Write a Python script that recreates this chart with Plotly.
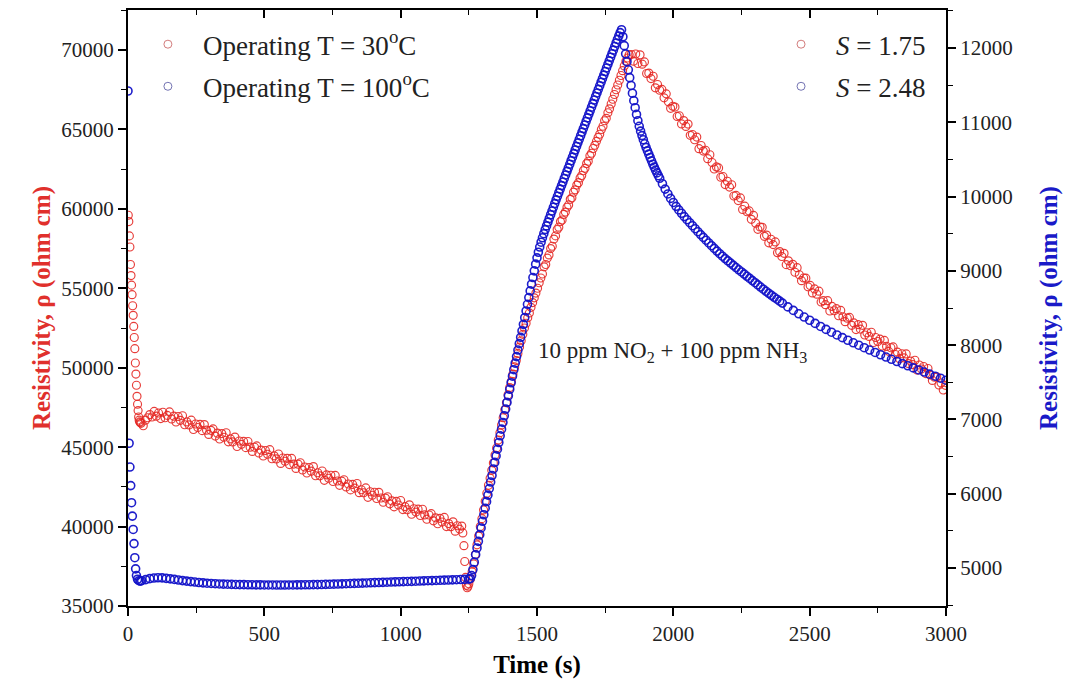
import plotly.graph_objects as go

# ---------------- data ----------------
# 100 degC sample (right axis), ohm cm
blue_start_t = [0, 4, 7, 10, 13, 16, 19, 22, 25, 28, 31, 35, 40, 45]
blue_start_v = [11420, 6680, 6360, 6110, 5880, 5700, 5520, 5330, 5140, 4990, 4900, 4850, 4830, 4825]

blue_flat_t0, blue_flat_dt = 50, 15
blue_flat_v = [4830, 4845, 4858, 4866, 4870, 4868, 4862, 4855, 4848, 4840, 4832, 4825, 4818, 4812,
               4806, 4801, 4797, 4793, 4790, 4787, 4785, 4783, 4781, 4779, 4778, 4777, 4776, 4775,
               4774, 4774, 4773, 4773, 4773, 4772, 4772, 4772, 4773, 4773, 4774, 4774, 4775, 4776,
               4777, 4778, 4779, 4781, 4782, 4784, 4786, 4788, 4790, 4792, 4794, 4796, 4798, 4800,
               4802, 4804, 4806, 4808, 4810, 4812, 4814, 4816, 4818, 4820, 4822, 4824, 4826, 4828,
               4830, 4832, 4834, 4836, 4838, 4840, 4842, 4844, 4846, 4848, 4852]

blue_rise_t0, blue_rise_dt = 1255, 5
blue_rise_v = [4860, 4900, 4980, 5080, 5180, 5270, 5360, 5450, 5540, 5630, 5718, 5806, 5894, 5982,
               6070, 6158, 6246, 6334, 6422, 6510, 6600, 6690, 6780, 6870, 6960, 7050, 7140, 7230,
               7318, 7406, 7494, 7582, 7670, 7758, 7846, 7934, 8020, 8106, 8192, 8280, 8370, 8460,
               8550, 8640, 8730, 8820, 8910, 9000, 9090, 9175, 9250, 9320, 9385, 9445, 9500, 9555,
               9605, 9655, 9705, 9755, 9805, 9855, 9905, 9955, 10003, 10051, 10099, 10147, 10195,
               10243, 10290, 10338, 10386, 10434, 10482, 10530, 10578, 10626, 10674, 10722, 10770,
               10818, 10866, 10914, 10962, 11010, 11058, 11106, 11154, 11202, 11250, 11298, 11346,
               11394, 11442, 11490, 11538, 11586, 11634, 11682, 11730, 11778, 11826, 11874, 11922,
               11970, 12018, 12066, 12114, 12160, 12205, 12245]

blue_decay1_t0, blue_decay1_dt = 1815, 5
blue_decay1_v = [12150, 12030, 11920, 11815, 11705, 11600, 11495, 11390, 11290, 11195, 11105, 11020,
                 10945, 10880, 10820, 10765, 10710, 10660, 10615, 10570, 10525, 10480, 10435, 10395,
                 10355, 10318, 10280, 10245]

blue_decay2_t0, blue_decay2_dt = 1960, 10
blue_decay2_v = [10172, 10100, 10035, 9975, 9920, 9868, 9820, 9775, 9730, 9688, 9648, 9607, 9567,
                 9527, 9488, 9450, 9412, 9375, 9338, 9302, 9266, 9231, 9197, 9165, 9134, 9104, 9074,
                 9044, 9014, 8985, 8956, 8927, 8898, 8869, 8840, 8811, 8782, 8753, 8725, 8697, 8670,
                 8644, 8618, 8592, 8566]

blue_decay3_t0, blue_decay3_dt = 2420, 20
blue_decay3_v = [8515, 8468, 8422, 8378, 8335, 8293, 8252, 8212, 8174, 8137, 8101, 8066, 8032, 7999,
                 7966, 7934, 7902, 7871, 7840, 7810, 7780, 7751, 7722, 7694, 7666, 7638, 7610, 7582,
                 7555, 7528]

# 30 degC sample (left axis), ohm cm
red_start_t = [1, 3, 5, 7, 9, 11, 13, 15, 17, 19, 21, 23, 25, 27, 29, 31, 33, 35, 37, 39, 41, 43, 45]
red_start_v = [59600, 59200, 58300, 57600, 56500, 55800, 55200, 54600, 53900, 53300, 52600, 51900,
               51200, 50300, 49600, 48900, 48200, 47700, 47300, 46900, 46700, 46600, 46550]

red_flat_t0, red_flat_dt = 48, 8
red_flat_v = [46500, 46350, 46700, 46850, 47050, 46900, 47250, 46950, 47150, 46800, 47200, 46850,
              47000, 47220, 46770, 46950, 46580, 46930, 46690, 46980, 46410, 46590, 46400, 46700,
              46110, 46460, 46240, 46430, 46040, 46420, 46070, 45800, 46060, 46150, 45695, 45880,
              45510, 45855, 45620, 45910, 45335, 45520, 45330, 45635, 45040, 45390, 45175, 45360,
              44970, 45355, 45000, 44730, 44995, 45080, 44630, 44815, 44440, 44790, 44555, 44840,
              44270, 44455, 44260, 44570, 43975, 44320, 44110, 44295, 43900, 44290, 43935, 43660,
              43930, 44015, 43560, 43750, 43375, 43720, 43490, 43775, 43200, 43390, 43195, 43500,
              42910, 43255, 43040, 43230, 42835, 43220, 42870, 42595, 42860, 42950, 42495, 42680,
              42310, 42655, 42420, 42710, 42135, 42320, 42130, 42435, 41840, 42190, 41975, 42160,
              41770, 42155, 41800, 41530, 41795, 41880, 41430, 41615, 41240, 41590, 41355, 41640,
              41070, 41255, 41060, 41370, 40775, 41120, 40910, 41095, 40700, 41090, 40735, 40460,
              40730, 40815, 40360, 40550, 40175, 40520, 40290, 40575, 40000, 40190, 39995, 40300,
              39710, 40055, 39840, 40030]

red_drop_t = [1228, 1232, 1235, 1238, 1241, 1244, 1247]
red_drop_v = [39600, 38800, 37800, 36800, 36300, 36150, 36250]

red_rise_t0, red_rise_dt = 1250, 6
red_rise_v = [36400, 36700, 37150, 37650, 38250, 38850, 39400, 40000, 40500, 41050, 41600, 42100,
              42600, 43050, 43550, 44000, 44500, 44950, 45450, 45900, 46400, 46850, 47350, 47800,
              48300, 48750, 49150, 49600, 50050, 50450, 50900, 51300, 51700, 52100, 52500, 52800,
              53150, 53450, 53800, 54100, 54400, 54700, 55000, 55350, 55650, 55900, 56350, 56500,
              56900, 57100, 57500, 57650, 58100, 58300, 58700, 58850, 59200, 59300, 59650, 59800,
              60100, 60250, 60600, 60700, 61050, 61200, 61500, 61650, 61950, 62100, 62400, 62550,
              62850, 63000, 63350, 63500, 63800, 64000, 64250, 64500, 64700, 65000, 65200, 65550,
              65700, 66050, 66300, 66600, 66900, 67200, 67500, 67800, 68100, 68400, 68700, 69000,
              69300, 69500, 69700]

red_decay_t0, red_decay_dt = 1846, 8
red_decay_v = [69720, 69300, 69750, 69150, 69700, 69110, 69250, 68520, 68550, 68200, 68350, 67620,
               67830, 67470, 67520, 66990, 67240, 66740, 66330, 66460, 66410, 65820, 65860, 65350,
               65560, 65190, 65340, 64630, 64680, 64350, 64520, 63790, 63990, 63640, 63690, 63160,
               63410, 62920, 62510, 62640, 62580, 61990, 62040, 61530, 61740, 61370, 61520, 60810,
               60850, 60520, 60690, 59960, 60170, 59820, 59870, 59340, 59590, 59100, 58710, 58860,
               58840, 58270, 58350, 57860, 58090, 57750, 57920, 57240, 57310, 57000, 57200, 56490,
               56730, 56420, 56510, 56010, 56300, 55850, 55480, 55650, 55640, 55090, 55180, 54710,
               54960, 54630, 54820, 54140, 54220, 53970, 54220, 53570, 53860, 53590, 53720, 53270,
               53610, 53210, 52900, 53120, 53170, 52670, 52820, 52400, 52710, 52430, 52670, 52060,
               52200, 51970, 52230, 51590, 51900, 51650, 51800, 51370, 51720, 51340, 51030, 51260,
               51310, 50830, 50980, 50570, 50880, 50620, 50870, 50260, 50420, 50200, 50470, 49850,
               50170, 49920, 50080, 49630, 49950, 49540, 49200, 49400, 49430, 48910, 49040, 48600,
               48890]

x_ticks = [0, 500, 1000, 1500, 2000, 2500, 3000]
left_ticks = [35000, 40000, 45000, 50000, 55000, 60000, 65000, 70000]
right_ticks = [5000, 6000, 7000, 8000, 9000, 10000, 11000, 12000]


def grid(t0, dt, vals):
    return [t0 + dt * i for i in range(len(vals))]


blue_t = (blue_start_t + grid(blue_flat_t0, blue_flat_dt, blue_flat_v)
          + grid(blue_rise_t0, blue_rise_dt, blue_rise_v)
          + grid(blue_decay1_t0, blue_decay1_dt, blue_decay1_v)
          + grid(blue_decay2_t0, blue_decay2_dt, blue_decay2_v)
          + grid(blue_decay3_t0, blue_decay3_dt, blue_decay3_v))
blue_v = blue_start_v + blue_flat_v + blue_rise_v + blue_decay1_v + blue_decay2_v + blue_decay3_v

red_t = (red_start_t + grid(red_flat_t0, red_flat_dt, red_flat_v) + red_drop_t
         + grid(red_rise_t0, red_rise_dt, red_rise_v)
         + grid(red_decay_t0, red_decay_dt, red_decay_v))
red_v = red_start_v + red_flat_v + red_drop_v + red_rise_v + red_decay_v

SERIF = "Liberation Serif"
RED = "#e0302c"
BLUE = "#1a1ac8"

fig = go.Figure()

fig.add_trace(go.Scatter(
    x=red_t, y=red_v, mode="markers", yaxis="y", showlegend=False,
    marker=dict(symbol="circle-open", size=8, color="rgba(228,40,36,0.9)", line=dict(width=1.15)),
))
fig.add_trace(go.Scatter(
    x=blue_t, y=blue_v, mode="markers", yaxis="y2", showlegend=False,
    marker=dict(symbol="circle-open", size=8, color="rgba(18,18,200,0.95)", line=dict(width=1.6)),
))

# legend entries
leg_red = dict(symbol="circle-open", size=8, color="rgba(205,110,110,0.9)", line=dict(width=1))
leg_blue = dict(symbol="circle-open", size=8, color="rgba(100,100,170,0.9)", line=dict(width=1))
fig.add_trace(go.Scatter(x=[None], y=[None], mode="markers", marker=leg_red, legend="legend",
                         legendgroup="a", name="Operating T = 30<sup>o</sup>C"))
fig.add_trace(go.Scatter(x=[None], y=[None], mode="markers", marker=leg_blue, legend="legend",
                         legendgroup="b", name="Operating T = 100<sup>o</sup>C"))
fig.add_trace(go.Scatter(x=[None], y=[None], mode="markers", marker=leg_red, legend="legend2",
                         legendgroup="c", name="<i>S</i> = 1.75"))
fig.add_trace(go.Scatter(x=[None], y=[None], mode="markers", marker=leg_blue, legend="legend2",
                         legendgroup="d", name="<i>S</i> = 2.48"))
# carrier for the top axis
fig.add_trace(go.Scatter(x=[None], y=[None], xaxis="x2", yaxis="y", showlegend=False,
                         hoverinfo="skip"))

tickfont = dict(family=SERIF, size=21, color="#222")
axis_common = dict(showline=True, linewidth=2, linecolor="black", showgrid=False, zeroline=False,
                   ticks="outside", ticklen=8, tickwidth=1.6, tickcolor="black",
                   tickfont=tickfont)

fig.update_layout(
    width=1073, height=684,
    margin=dict(l=128, r=127, t=10, b=78),
    paper_bgcolor="white", plot_bgcolor="white",
    font=dict(family=SERIF, color="#222"),
    xaxis=dict(range=[0, 3000], tickvals=x_ticks, ticktext=[str(v) for v in x_ticks],
               minor=dict(dtick=250, tick0=0, ticks="outside", ticklen=5, tickwidth=1.4,
                          tickcolor="black"),
               title=dict(text="<b>Time (s)</b>", font=dict(family=SERIF, size=25, color="black"),
                          standoff=10),
               **axis_common),
    xaxis2=dict(range=[0, 3000], overlaying="x", side="top", anchor="y", showline=True,
                linewidth=2, linecolor="black", showgrid=False, zeroline=False,
                showticklabels=False, ticks="inside", ticklen=8, tickwidth=1.6, tickcolor="black",
                tickvals=x_ticks,
                minor=dict(dtick=250, tick0=0, ticks="inside", ticklen=5, tickwidth=1.4,
                           tickcolor="black")),
    yaxis=dict(range=[35000, 72520], tickvals=left_ticks, ticktext=[str(v) for v in left_ticks],
               minor=dict(dtick=2500, tick0=0, ticks="outside", ticklen=5, tickwidth=1.4,
                          tickcolor="black"),
               title=dict(text="<b>Resistivity, ρ (ohm cm)</b>",
                          font=dict(family=SERIF, size=25, color=RED), standoff=4),
               **axis_common),
    yaxis2=dict(range=[4490, 12510], overlaying="y", side="right", tickvals=right_ticks,
                ticktext=[str(v) for v in right_ticks],
                minor=dict(dtick=500, tick0=0, ticks="outside", ticklen=5, tickwidth=1.4,
                           tickcolor="black"),
                title=dict(text="<b>Resistivity, ρ (ohm cm)</b>",
                           font=dict(family=SERIF, size=25, color=BLUE), standoff=28),
                **axis_common),
    legend=dict(x=0.006, y=0.983, xanchor="left", yanchor="top", bgcolor="rgba(0,0,0,0)",
                font=dict(family=SERIF, size=27, color="#222"), itemwidth=60,
                tracegroupgap=4),
    legend2=dict(x=0.78, y=0.983, xanchor="left", yanchor="top", bgcolor="rgba(0,0,0,0)",
                 font=dict(family=SERIF, size=27, color="#222"), itemwidth=60,
                 tracegroupgap=4),
    annotations=[dict(x=1497, y=51000, xref="x", yref="y", xanchor="left", yanchor="middle",
                      showarrow=False,
                      text="10 ppm NO<sub>2</sub> + 100 ppm NH<sub>3</sub>",
                      font=dict(family=SERIF, size=23, color="#222"))],
)

fig.write_html("out.html")
